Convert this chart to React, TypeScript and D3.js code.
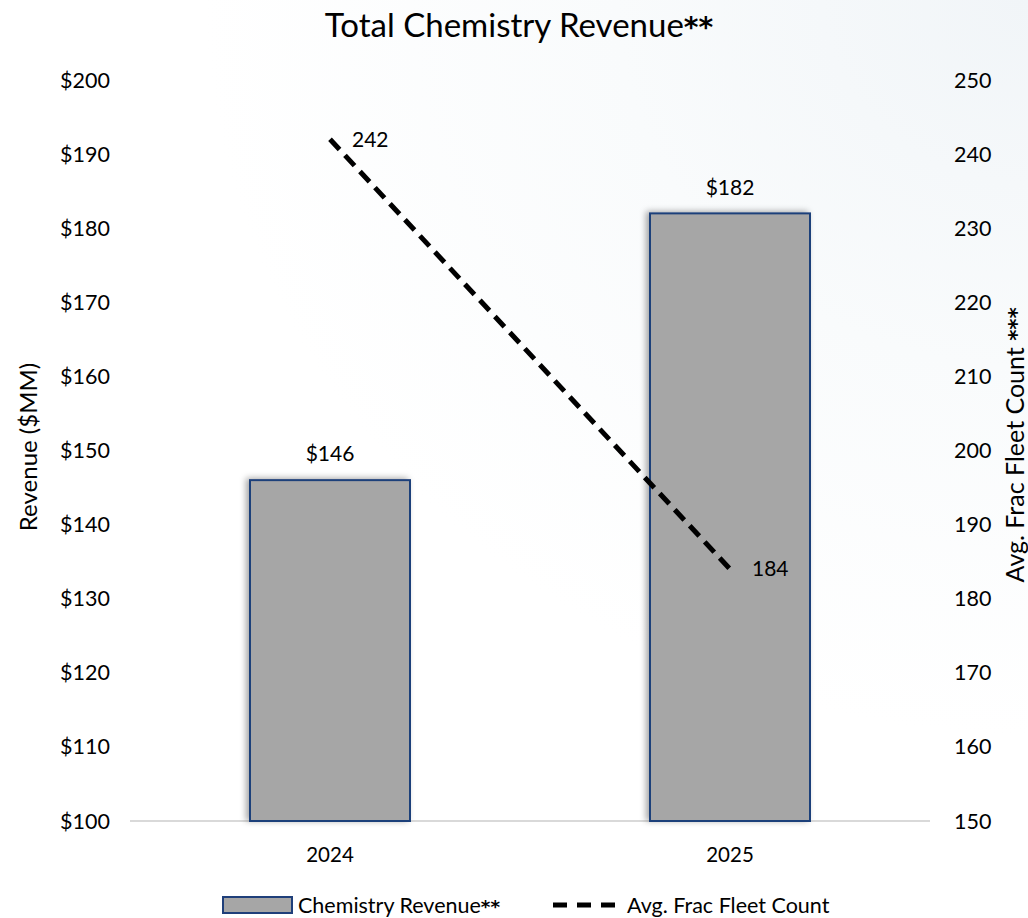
import React from "react";
import * as d3 from "d3";

const categories = ["2024", "2025"];
const revenue = [146, 182];
const revenueLabels = ["$146", "$182"];
const fleetCount = [242, 184];
const leftTicks = [100, 110, 120, 130, 140, 150, 160, 170, 180, 190, 200];
const rightTicks = [150, 160, 170, 180, 190, 200, 210, 220, 230, 240, 250];

const W = 1028;
const H = 918;
const FONT = "Lato, 'Open Sans', sans-serif";
const STAR_FONT = "'DejaVu Sans', sans-serif";

function Stars({ n, size }: { n: number; size: number }) {
  return (
    <tspan fontFamily={STAR_FONT} fontWeight="bold" fontSize={size * 0.85}>
      {"*".repeat(n)}
    </tspan>
  );
}

export default function App() {
  const x = d3.scaleBand<string>().domain(categories).range([130, 930]).paddingInner(0.6).paddingOuter(0.3);
  const yL = d3.scaleLinear().domain([100, 200]).range([821, 80]);
  const yR = d3.scaleLinear().domain([150, 250]).range([821, 80]);
  const cx = (c: string) => (x(c) as number) + x.bandwidth() / 2;

  const line = d3
    .line<number>()
    .x((_, i) => cx(categories[i]))
    .y((d) => yR(d));

  return (
    <svg width={W} height={H} style={{ position: "absolute", left: 0, top: 0 }} fontFamily={FONT}>
      <defs>
        <radialGradient id="bg" cx="1" cy="0" r="0.8">
          <stop offset="0" stopColor="#f1f5f8" />
          <stop offset="0.5" stopColor="#f9fbfc" />
          <stop offset="1" stopColor="#ffffff" />
        </radialGradient>
        <filter id="shadow" x="-20%" y="-20%" width="140%" height="140%">
          <feDropShadow dx="-3" dy="-1" stdDeviation="3" floodColor="#000" floodOpacity="0.35" />
        </filter>
      </defs>
      <rect x={0} y={0} width={W} height={H} fill="url(#bg)" />
      <text x={519} y={37} textAnchor="middle" fontSize={33} fill="#000">
        Total Chemistry Revenue
        <Stars n={2} size={33} />
      </text>

      {/* baseline */}
      <line x1={130} x2={930} y1={yL(100)} y2={yL(100)} stroke="#d9d9d9" strokeWidth={2} />

      {/* left ticks */}
      {leftTicks.map((t) => (
        <text key={"l" + t} x={110} y={yL(t)} dy="0.35em" textAnchor="end" fontSize={21.5} fill="#000">
          {"$" + t}
        </text>
      ))}
      {/* right ticks */}
      {rightTicks.map((t) => (
        <text key={"r" + t} x={954} y={yR(t)} dy="0.35em" textAnchor="start" fontSize={21.5} fill="#000">
          {t}
        </text>
      ))}

      <text transform={`translate(37,447) rotate(-90)`} textAnchor="middle" fontSize={24} fill="#000">
        Revenue ($MM)
      </text>
      <text transform={`translate(1024,445) rotate(-90)`} textAnchor="middle" fontSize={25} fill="#000">
        Avg. Frac Fleet Count <Stars n={3} size={25} />
      </text>

      {/* bars */}
      {categories.map((c, i) => (
        <g key={"b" + c}>
          <rect
            x={x(c) as number}
            y={yL(revenue[i])}
            width={x.bandwidth()}
            height={yL(100) - yL(revenue[i])}
            fill="#a6a6a6"
            stroke="#1f3f7a"
            strokeWidth={2}
            filter="url(#shadow)"
          />
          <text x={cx(c)} y={yL(revenue[i]) - 26} dy="0.35em" textAnchor="middle" fontSize={21} fill="#000">
            {revenueLabels[i]}
          </text>
          <text x={cx(c)} y={855} dy="0.35em" textAnchor="middle" fontSize={20.5} fill="#000">
            {c}
          </text>
        </g>
      ))}

      {/* line */}
      <path d={line(fleetCount) as string} fill="none" stroke="#000" strokeWidth={5} strokeDasharray="14 8" />
      {fleetCount.map((v, i) => (
        <text key={"f" + i} x={cx(categories[i]) + 22} y={yR(v)} dy="0.35em" textAnchor="start" fontSize={21} fill="#000">
          {v}
        </text>
      ))}

      {/* legend */}
      <rect x={223} y={897} width={69} height={16} fill="#a6a6a6" stroke="#1f3f7a" strokeWidth={2} />
      <text x={298} y={905} dy="0.35em" fontSize={21.5} fill="#000">
        Chemistry Revenue
        <Stars n={2} size={21.5} />
      </text>
      <line x1={553} x2={615} y1={905} y2={905} stroke="#000" strokeWidth={5} strokeDasharray="14 10" />
      <text x={627} y={905} dy="0.35em" fontSize={21.5} fill="#000">
        Avg. Frac Fleet Count
      </text>
    </svg>
  );
}
